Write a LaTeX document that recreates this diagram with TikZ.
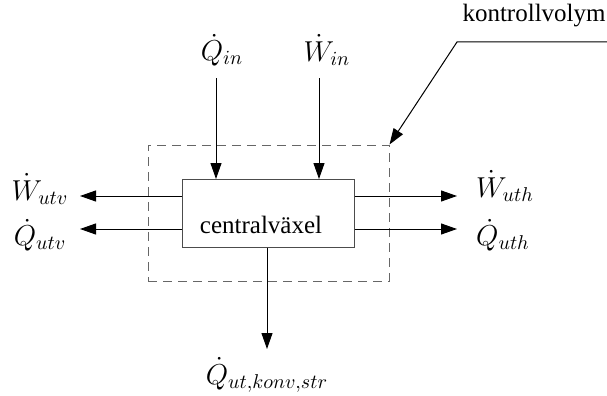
\documentclass[tikz,border=0pt]{standalone}
\usepackage{fontspec}
\setmainfont{Liberation Serif}
\usetikzlibrary{arrows.meta}
\begin{document}
\begin{tikzpicture}[x=0.5pt,y=-0.5pt,
				every node/.style={inner sep=0pt},
				flow/.style={-{Triangle[length=8pt,width=5.5pt]},line width=0.5pt},
				lbl/.style={font=\fontsize{12.5}{15}\selectfont},
				qty/.style={font=\fontsize{14.5}{17}\selectfont}]
\useasboundingbox (0,0) rectangle (607,396);
% kontrollvolym och centralvaxel
\node[draw=black!60,dash pattern=on 4.5pt off 3pt,line width=0.5pt,minimum width=120.5pt,minimum height=68pt] (cv) at (268.5,213) {};
\node[draw=black!70,line width=0.5pt,minimum width=86pt,minimum height=34pt] (box) at (268,213) {};
\node[lbl] (txt) at (261,225) {centralväxel};
\node[lbl,anchor=base east] (kv) at (606,22) {kontrollvolym};
\coordinate (knee) at (457,42);
\coordinate (kvend) at (607,42);
% storheter
\node[qty] (qin) at (222,50) {$\dot{Q}_{in}$};
\node[qty] (win) at (327,50) {$\dot{W}_{in}$};
\node[qty] (wutv) at (40,189) {$\dot{W}_{utv}$};
\node[qty] (qutv) at (40,235) {$\dot{Q}_{utv}$};
\node[qty] (wuth) at (505,186) {$\dot{W}_{uth}$};
\node[qty] (quth) at (503,235) {$\dot{Q}_{uth}$};
\node[qty] (qkonv) at (267,375) {$\dot{Q}_{ut,konv,str}$};
% pilar
\draw[flow] (216,78) -- (216,179);
\draw[flow] (319,78) -- (319,179);
\draw[flow] (box.west |- 0,196) -- (80,196);
\draw[flow] (box.west |- 0,229) -- (80,229);
\draw[flow] (box.east |- 0,196) -- (457,196);
\draw[flow] (box.east |- 0,229) -- (457,229);
\draw[flow] (box.south -| 267,0) -- (267,349);
\draw[flow] (kvend) -- (knee) -- (cv.north east);
\end{tikzpicture}
\end{document}
